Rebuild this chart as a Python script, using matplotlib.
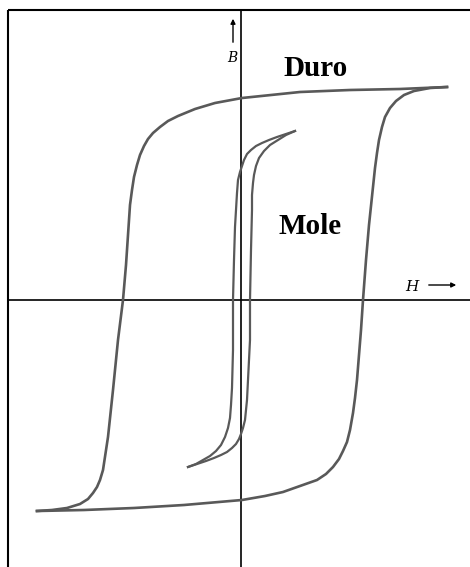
import matplotlib
matplotlib.use("Agg")
import matplotlib.pyplot as plt

# hysteresis loops (arbitrary units, origin at axis crossing)
duro_down_H = [205, 158, 108, 58, 0, -27, -47, -64, -74, -82, -89, -94, -98, -102, -105,
               -108, -110, -112, -113, -114, -116, -119, -124, -129, -134, -139, -142, -145,
               -149, -154, -162, -175, -190, -205]
duro_down_B = [212, 210, 209, 207, 201, 196, 190, 183, 178, 172, 166, 160, 153, 144, 134,
               122, 109, 94, 79, 64, 34, -1, -41, -91, -138, -171, -181, -188,
               -194, -200, -205, -209, -211, -212]

duro_up_H = [-205, -158, -108, -58, 0, 23, 41, 58, 75, 84, 91, 97, 101, 105, 108, 111, 113,
             115, 119, 121, 124, 127, 131, 133, 135, 137, 140, 143, 148, 154, 162, 172, 188, 205]
duro_up_B = [-212, -211, -209, -206, -201, -197, -193, -187, -181, -175, -168, -160, -152, -143,
             -131, -114, -99, -81, -31, -1, 39, 74, 112, 131, 146, 159, 172, 182, 191, 198,
             204, 208, 211, 212]

mole_down_H = [53, 44, 35, 27, 20, 14, 9, 5, 2, 0, -2, -4, -5, -6, -7, -8, -9, -9, -10, -11,
               -12, -14, -17, -21, -26, -32, -39, -46, -54]
mole_down_B = [168, 165, 162, 159, 156, 153, 149, 145, 139, 133, 127, 119, 106, 89, 72, 39,
               -1, -51, -89, -106, -119, -129, -138, -146, -152, -157, -161, -165, -168]

mole_up_H = [-54, -45, -36, -28, -21, -15, -10, -6, -3, -1, 1, 3, 4, 5, 6, 7, 8, 8, 9, 10,
             10, 11, 12, 14, 17, 22, 28, 36, 44, 53]
mole_up_B = [-168, -165, -162, -159, -156, -153, -149, -145, -140, -135, -129, -121, -111,
             -101, -81, -61, -41, -1, 49, 89, 104, 116, 124, 133, 141, 148, 154, 159, 164, 168]

labels = ['Duro', 'Mole']

curve_color = '#595959'

fig = plt.figure(figsize=(4.70, 5.67), dpi=100)
ax = fig.add_axes([0, 0, 1, 1])
ax.set_xlim(-242, 228)
ax.set_ylim(-268, 299)
ax.axis('off')

# frame (left and top only)
ax.plot([-234, -234], [-268, 289], color='black', lw=1.5, solid_capstyle='butt')
ax.plot([-234, 228], [289, 289], color='black', lw=1.5, solid_capstyle='butt')

# axes
ax.plot([-234, 228], [-1, -1], color='black', lw=1.2)
ax.plot([-1, -1], [-268, 289], color='black', lw=1.2)

# loops
ax.plot(duro_down_H, duro_down_B, color=curve_color, lw=1.9, solid_joinstyle='round')
ax.plot(duro_up_H, duro_up_B, color=curve_color, lw=1.9, solid_joinstyle='round')
ax.plot(mole_down_H, mole_down_B, color=curve_color, lw=1.6, solid_joinstyle='round')
ax.plot(mole_up_H, mole_up_B, color=curve_color, lw=1.6, solid_joinstyle='round')

# axis names with arrows
ax.annotate('', xy=(-9, 283), xytext=(-9, 254),
            arrowprops=dict(arrowstyle='-|>', color='black', lw=1.0, mutation_scale=7))
ax.text(-10, 241, 'B', fontsize=10, family='DejaVu Serif', style='italic',
        ha='center', va='center')
ax.text(170, 12, 'H', fontsize=11, family='DejaVu Serif', style='italic',
        ha='center', va='center')
ax.annotate('', xy=(217, 14), xytext=(184, 14),
            arrowprops=dict(arrowstyle='-|>', color='black', lw=1.0, mutation_scale=7))

ax.text(74, 231, labels[0], fontsize=21, family='Liberation Serif', weight='bold',
        ha='center', va='center')
ax.text(68, 72, labels[1], fontsize=21, family='Liberation Serif', weight='bold',
        ha='center', va='center')

fig.savefig('out.png', dpi=100)
